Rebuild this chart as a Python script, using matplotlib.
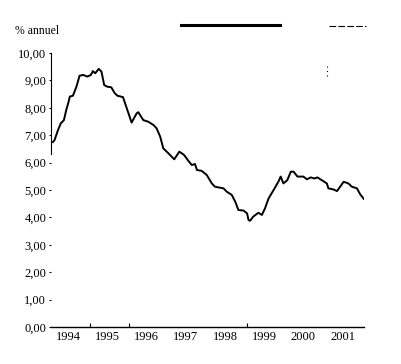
import matplotlib
matplotlib.use("Agg")
import matplotlib.pyplot as plt
from matplotlib.lines import Line2D

# decimal year / % annual rate
t = [1994.05, 1994.09, 1994.18, 1994.25, 1994.33, 1994.39, 1994.45, 1994.48,
     1994.56, 1994.65, 1994.73, 1994.82, 1994.93, 1995.02, 1995.07, 1995.13,
     1995.22, 1995.29, 1995.36, 1995.44, 1995.54, 1995.63, 1995.70, 1995.84,
     1995.98, 1996.06, 1996.19, 1996.23, 1996.36, 1996.49, 1996.62, 1996.70,
     1996.79, 1996.87, 1997.00, 1997.15, 1997.28, 1997.40, 1997.53, 1997.60,
     1997.68, 1997.73, 1997.85, 1997.98, 1998.11, 1998.19, 1998.41, 1998.49,
     1998.62, 1998.71, 1998.79, 1998.92, 1999.01, 1999.05, 1999.09, 1999.17,
     1999.30, 1999.39, 1999.47, 1999.56, 1999.69, 1999.81, 1999.87, 1999.94,
     2000.04, 2000.13, 2000.20, 2000.30, 2000.45, 2000.54, 2000.64, 2000.73,
     2000.81, 2000.92, 2001.05, 2001.09, 2001.22, 2001.31, 2001.39, 2001.48,
     2001.60, 2001.69, 2001.82, 2001.90, 2001.99]
rate = [6.75, 6.82, 7.19, 7.43, 7.55, 7.92, 8.22, 8.41,
        8.44, 8.77, 9.17, 9.20, 9.14, 9.20, 9.34, 9.26,
        9.42, 9.32, 8.83, 8.77, 8.75, 8.53, 8.44, 8.39,
        7.80, 7.46, 7.80, 7.84, 7.55, 7.49, 7.37, 7.25,
        6.95, 6.52, 6.34, 6.12, 6.40, 6.28, 6.03, 5.91,
        5.95, 5.73, 5.70, 5.55, 5.24, 5.12, 5.06, 4.94,
        4.82, 4.57, 4.27, 4.25, 4.15, 3.90, 3.88, 4.03,
        4.17, 4.09, 4.33, 4.69, 5.00, 5.30, 5.49, 5.24,
        5.36, 5.67, 5.67, 5.49, 5.49, 5.39, 5.46, 5.42,
        5.46, 5.36, 5.24, 5.06, 5.02, 4.96, 5.12, 5.30,
        5.24, 5.12, 5.06, 4.85, 4.68]

years = [1994, 1995, 1996, 1997, 1998, 1999, 2000, 2001]
yticks = [0, 1, 2, 3, 4, 5, 6, 7, 8, 9, 10]
ylabels = ["0,00", "1,00", "2,00", "3,00", "4,00", "5,00",
           "6,00", "7,00", "8,00", "9,00", "10,00"]

plt.rcParams['font.family'] = ['Liberation Serif', 'DejaVu Serif']

fig = plt.figure(figsize=(4.02, 3.64), dpi=100)
ax = fig.add_axes([51/402, 1 - 327/364, 313/402, 274/364])

ax.plot(t, rate, color='black', lw=1.4)

ax.set_xlim(1994.0, 2002.0)
ax.set_ylim(0, 10)

for s in ['top', 'right', 'left']:
    ax.spines[s].set_visible(False)
ax.spines['bottom'].set_linewidth(1.0)

# partial left axis line as in the scan
ax.plot([0, 0], [0.63, 1.0], transform=ax.transAxes, color='black',
        lw=0.8, clip_on=False)

ax.set_yticks(yticks)
ax.set_yticklabels(ylabels, fontsize=9)
ax.tick_params(axis='y', length=1.5, width=0.8, pad=2)

ax.set_xticks([y + 0.45 for y in years])
ax.set_xticklabels([str(y) for y in years], fontsize=9)
ax.tick_params(axis='x', length=0, pad=3)
ax.set_xticks([1995, 1996, 1999], minor=True)
ax.tick_params(axis='x', which='minor', length=3, width=0.8, direction='in')

fig.text(15/402, 1 - 31/364, "% annuel", fontsize=8.5, va='center', ha='left')

# legend remnants at the top
fig.add_artist(Line2D([181/402, 280/402], [1 - 24.5/364] * 2,
                      transform=fig.transFigure, color='black', lw=2.2))
fig.add_artist(Line2D([329/402, 366/402], [1 - 26/364] * 2,
                      transform=fig.transFigure, color='black', lw=0.8,
                      dashes=(6, 2)))
fig.add_artist(Line2D([327/402, 327/402], [1 - 66/364, 1 - 78/364],
                      transform=fig.transFigure, color='black', lw=0.8,
                      dashes=(1, 3)))

fig.savefig("out.png", dpi=100)
